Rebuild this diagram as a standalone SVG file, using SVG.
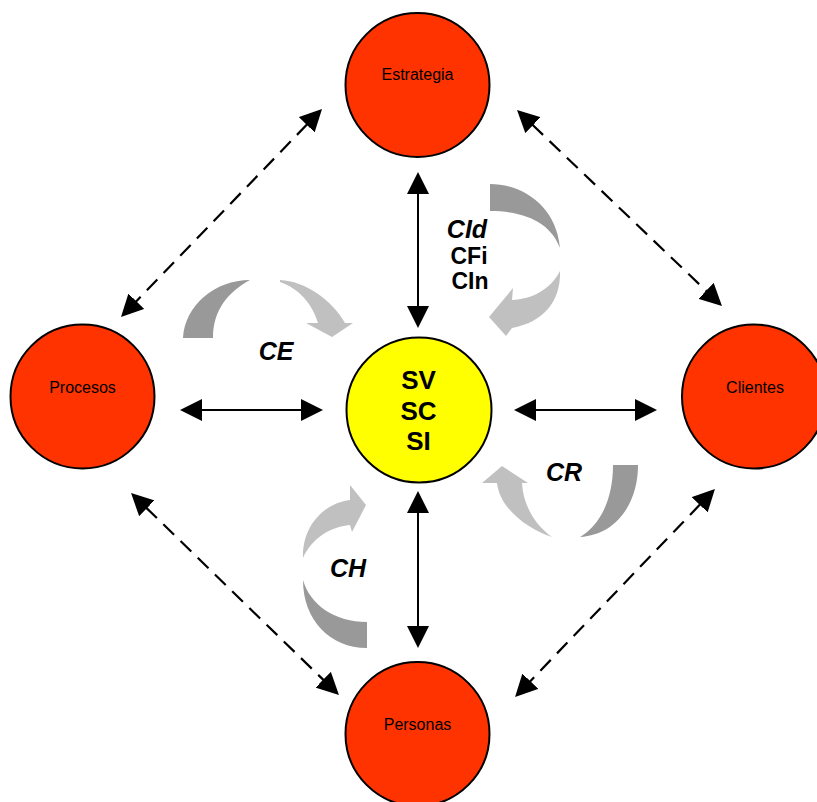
<svg xmlns="http://www.w3.org/2000/svg" width="817" height="802" viewBox="0 0 817 802">
  <style>
    .node { fill: #FF3300; stroke: #000; stroke-width: 2; }
    .core { fill: #FFFF00; stroke: #000; stroke-width: 2; }
    .lbl { font-family: "Liberation Sans", Arial, sans-serif; font-size: 16px; fill: #000; text-anchor: middle; }
    .core-lbl { font-family: "Liberation Sans", Arial, sans-serif; font-size: 26px; font-weight: bold; fill: #000; text-anchor: middle; }
    .cyc { font-family: "Liberation Sans", Arial, sans-serif; font-size: 25px; font-weight: bold; font-style: italic; fill: #000; text-anchor: middle; }
    .sub { font-family: "Liberation Sans", Arial, sans-serif; font-size: 23px; font-weight: bold; fill: #000; text-anchor: middle; }
    .solid { stroke: #000; stroke-width: 2; fill: none; marker-start: url(#ah); marker-end: url(#ah); }
    .dash { stroke: #000; stroke-width: 2.2; fill: none; stroke-dasharray: 15 9; marker-start: url(#ah); marker-end: url(#ah); }
    .dark { fill: #999999; }
    .light { fill: #C0C0C0; }
  </style>
  <defs>
    <marker id="ah" markerUnits="userSpaceOnUse" markerWidth="22" markerHeight="22" viewBox="0 0 22 22" refX="1" refY="11" orient="auto-start-reverse">
      <path d="M0,0 L22,11 L0,22 Z" fill="#000"/>
    </marker>
  </defs>

  <rect width="817" height="802" fill="#fff"/>

  <!-- connectors -->
  <g id="connectors">
    <line class="solid" x1="418" y1="193" x2="418" y2="307"/>
    <line class="solid" x1="418" y1="512" x2="418" y2="627"/>
    <line class="solid" x1="201" y1="410" x2="302" y2="410"/>
    <line class="solid" x1="535" y1="410" x2="636" y2="410"/>
    <line class="dash" x1="307.4" y1="124.1" x2="135.6" y2="301.9"/>
    <line class="dash" x1="532.2" y1="124.5" x2="706.8" y2="291.5"/>
    <line class="dash" x1="146.1" y1="507.6" x2="323.9" y2="680.4"/>
    <line class="dash" x1="700.4" y1="504.1" x2="529.6" y2="681.9"/>
  </g>

  <!-- curved cycle arrows: darker tail, lighter head -->
  <g id="cycle-CE">
    <path class="dark" d="M183,338 C185,305 215,280 250,280 C228,292 213,310 213,338 Z"/>
    <path class="light" d="M280,280 C305,281 332,300 345,323 L353,323 L332,337 L306,323 L318,323 C312,303 298,288 280,282 Z"/>
    <text class="cyc" x="276" y="360">CE</text>
  </g>
  <g id="cycle-CId">
    <path class="dark" d="M490,184 C522,184 556,205 560,248 C552,226 530,211 490,211 Z"/>
    <path class="light" d="M560,271 C561,300 545,322 512,328 L506,336 L489,317 L513,288 L512,300 C532,299 550,290 560,271 Z"/>
    <text class="cyc" x="467" y="238">CId</text>
    <text class="sub" x="469" y="264">CFi</text>
    <text class="sub" x="470" y="289">CIn</text>
  </g>
  <g id="cycle-CR">
    <path class="dark" d="M613,465 L638,465 C638,505 615,535 580,537 C600,525 613,500 613,465 Z"/>
    <path class="light" d="M552,537 C530,530 500,510 497,483 L482,483 L502,466 L528,483 L522,483 C523,505 535,525 552,537 Z"/>
    <text class="cyc" x="564" y="481">CR</text>
  </g>
  <g id="cycle-CH">
    <path class="dark" d="M367,648 C330,648 303,620 303,580 C310,605 335,622 367,622 Z"/>
    <path class="light" d="M303,558 C302,525 325,503 350,500 L350,485 L366,505 L352,532 L350,525 C330,527 312,538 303,558 Z"/>
    <text class="cyc" x="348" y="577">CH</text>
  </g>

  <!-- nodes -->
  <g id="estrategia">
    <circle class="node" cx="417.5" cy="85" r="72"/>
    <text class="lbl" x="417.5" y="80">Estrategia</text>
  </g>
  <g id="procesos">
    <circle class="node" cx="82.5" cy="396.5" r="72"/>
    <text class="lbl" x="82.5" y="393">Procesos</text>
  </g>
  <g id="clientes">
    <circle class="node" cx="754" cy="396.5" r="72"/>
    <text class="lbl" x="755" y="393">Clientes</text>
  </g>
  <g id="personas">
    <circle class="node" cx="417.5" cy="734" r="72"/>
    <text class="lbl" x="417.5" y="730">Personas</text>
  </g>
  <g id="nucleo">
    <circle class="core" cx="419" cy="410" r="72.5"/>
    <text class="core-lbl" x="418.5" y="389">SV</text>
    <text class="core-lbl" x="418.5" y="420">SC</text>
    <text class="core-lbl" x="418.5" y="450">SI</text>
  </g>
</svg>
